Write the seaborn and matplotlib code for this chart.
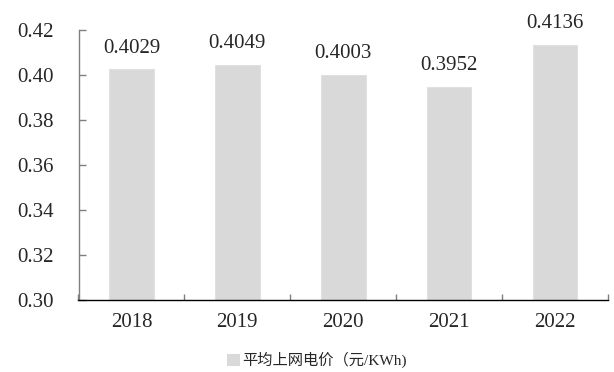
import matplotlib
matplotlib.use("Agg")
import matplotlib.pyplot as plt
import seaborn as sns
import pandas as pd
from matplotlib.patches import Patch
from matplotlib.ticker import FixedLocator

years = ["2018", "2019", "2020", "2021", "2022"]
prices = [0.4029, 0.4049, 0.4003, 0.3952, 0.4136]
series_name = "平均上网电价（元/KWh)"
y_ticks = [0.30, 0.32, 0.34, 0.36, 0.38, 0.40, 0.42]

sns.set_style("white")
plt.rcParams["font.family"] = ["Liberation Serif", "Noto Sans CJK SC"]

df = pd.DataFrame({"year": years, "price": prices})

fig = plt.figure(figsize=(6.14, 3.72), dpi=100)
ax = fig.add_axes([78.5 / 614, 1 - 300 / 372, (608 - 78.5) / 614, (300 - 30) / 372])

bar_color = "#d9d9d9"
sns.barplot(data=df, x="year", y="price", color=bar_color, width=0.44,
            saturation=1, ax=ax)

ax.set_ylim(0.30, 0.42)
ax.set_xlim(-0.5, len(years) - 0.5)
ax.set_yticks(y_ticks)
ax.set_yticklabels([f"{v:.2f}" for v in y_ticks], fontsize=15)
ax.set_xticklabels(years, fontsize=15)
ax.set_xlabel("")
ax.set_ylabel("")

# value labels above each bar
for i, v in enumerate(prices):
    ax.annotate(f"{v:.4f}", xy=(i, v), xytext=(0, 11.5), textcoords="offset points",
                ha="center", va="baseline", fontsize=15)

for side in ["top", "right"]:
    ax.spines[side].set_visible(False)
ax.spines["left"].set_color("#7f7f7f")
ax.spines["left"].set_linewidth(1.0)
ax.spines["bottom"].set_color("#000000")
ax.spines["bottom"].set_linewidth(1.0)

ax.tick_params(axis="y", direction="in", length=5, color="#7f7f7f", width=1.0,
               left=True, pad=18)
ax.tick_params(axis="x", which="major", length=0, pad=9.5)
ax.xaxis.set_minor_locator(FixedLocator([i - 0.5 for i in range(len(years) + 1)]))
ax.tick_params(axis="x", which="minor", direction="in", length=4,
               color="#7f7f7f", width=1.0, bottom=True)

handle = Patch(facecolor=bar_color, edgecolor="none")
fig.legend([handle], [series_name], loc="center", bbox_to_anchor=(317 / 614, 1 - 360 / 372),
           frameon=False, fontsize=11, handlelength=0.85, handleheight=0.85,
           handletextpad=0.15)

fig.savefig("out.png", dpi=100)
